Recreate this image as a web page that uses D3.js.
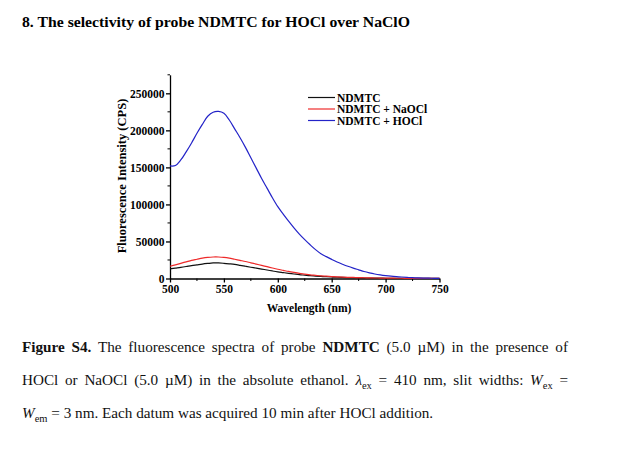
<!DOCTYPE html>
<html><head><meta charset="utf-8">
<script src="https://cdn.jsdelivr.net/npm/d3@7"></script>
<style>body{margin:0;background:#fff}svg{display:block}</style>
</head><body>
<svg id="c" width="619" height="463"></svg>
<script>
const wavelengths = d3.range(500, 751, 5);
const seriesNames = ["NDMTC", "NDMTC + NaOCl", "NDMTC + HOCl"];
const ndmtc = [13000,14000,15000,16200,17500,18500,19500,20300,21000,21000,20500,19800,19000,17800,16500,15200,14000,12700,11500,10200,9000,8000,7000,6100,5200,4500,3800,3300,2800,2400,2000,1700,1400,1200,1000,850,700,600,500,420,350,300,250,220,200,170,150,130,120,110,100];
const ndmtcNaOCl = [16500,18500,20500,22500,24500,26000,27500,28500,29000,29000,28500,27500,26000,24500,23000,21200,19500,17700,16000,14200,12500,11000,9500,8200,7000,6000,5000,4300,3600,3100,2600,2200,1900,1600,1400,1200,1000,850,700,600,500,430,370,320,270,230,200,170,140,120,100];
const ndmtcHOCl = [152000,152500,160000,171000,183000,196000,208000,219000,224500,225500,223000,214000,202000,190000,177000,163000,149000,135000,122000,109000,97000,87000,77500,68500,60000,52500,45500,39000,33500,29500,25800,22300,19300,16500,14000,11700,9400,7600,6100,4900,3900,3100,2500,2000,1500,1100,800,600,400,300,200];
const seriesValues = [ndmtc, ndmtcNaOCl, ndmtcHOCl];
const seriesColors = ["#111111", "#ee2a2a", "#2323c8"];
const xTicks = [500, 550, 600, 650, 700, 750];
const yTicks = [0, 50000, 100000, 150000, 200000, 250000];
const titleText = "8. The selectivity of probe NDMTC for HOCl over NaClO";

const svg = d3.select("#c");
const serif = "'Liberation Serif','Times New Roman',serif";

svg.append("text").attr("x", 22).attr("y", 27).attr("font-family", serif)
  .attr("font-weight", "bold").attr("font-size", 15.5).attr("textLength", 388)
  .attr("lengthAdjust", "spacingAndGlyphs").text(titleText);

const x = d3.scaleLinear().domain([500, 750]).range([170, 439.5]);
const y = d3.scaleLinear().domain([0, 275000]).range([278.5, 74.8]);

const g = svg.append("g");
const xMinor = d3.range(525, 750, 50);
const yMinor = d3.range(25000, 275001, 50000);
g.selectAll(".xm").data(xMinor).enter().append("line")
  .attr("x1", d => x(d)).attr("x2", d => x(d)).attr("y1", y(0)).attr("y2", y(0) + 2.5)
  .attr("stroke", "#000").attr("stroke-width", 1);
g.selectAll(".ym").data(yMinor).enter().append("line")
  .attr("x1", x(500) - 2.5).attr("x2", x(500)).attr("y1", d => y(d)).attr("y2", d => y(d))
  .attr("stroke", "#000").attr("stroke-width", 1);

const xAxis = d3.axisBottom(x).tickValues(xTicks).tickSize(4).tickSizeOuter(0).tickPadding(2).tickFormat(d3.format("d"));
const yAxis = d3.axisLeft(y).tickValues(yTicks).tickSize(4).tickSizeOuter(0).tickPadding(1.5).tickFormat(d3.format("d"));
const xa = g.append("g").attr("transform", `translate(0,${y(0)})`).call(xAxis);
const ya = g.append("g").attr("transform", `translate(${x(500)},0)`).call(yAxis);
[xa, ya].forEach(a => {
  a.attr("font-size", null).attr("font-family", null);
  a.selectAll("path,line").attr("stroke", "#000").attr("stroke-width", 1.3);
  a.selectAll("text").style("font-family", serif).style("font-weight", "bold").style("font-size", "11.5px").attr("fill", "#000");
});

const line = d3.line().x((d, i) => x(wavelengths[i])).y(d => y(d)).curve(d3.curveCatmullRom.alpha(0.5));
seriesValues.forEach((vals, k) => {
  svg.append("path").datum(vals).attr("d", line).attr("fill", "none")
    .attr("stroke", seriesColors[k]).attr("stroke-width", 1.2);
});

svg.append("text").attr("transform", `translate(126,176) rotate(-90)`).attr("text-anchor", "middle")
  .attr("font-family", serif).attr("font-weight", "bold").attr("font-size", 12.5).text("Fluorescence Intensity (CPS)");
svg.append("text").attr("x", 309).attr("y", 312).attr("text-anchor", "middle")
  .attr("font-family", serif).attr("font-weight", "bold").attr("font-size", 11.5).text("Wavelength (nm)");

const legY = [97.5, 109, 120.5];
seriesNames.forEach((n, k) => {
  svg.append("line").attr("x1", 308).attr("x2", 335).attr("y1", legY[k]).attr("y2", legY[k])
    .attr("stroke", seriesColors[k]).attr("stroke-width", 1.2);
  svg.append("text").attr("x", 337).attr("y", legY[k] + 4).attr("font-family", serif)
    .attr("font-weight", "bold").attr("font-size", 11.5).text(n);
});

const capLines = [
  {y: 352, justify: true, parts: [
    {t: "Figure S4.", b: true}, {t: " The fluorescence spectra of probe "}, {t: "NDMTC", b: true}, {t: " (5.0 µM) in the presence of"}]},
  {y: 385, justify: true, parts: [
    {t: "HOCl or NaOCl (5.0 µM) in the absolute ethanol. "}, {t: "λ", i: true}, {t: "ex", sub: true}, {t: " = 410 nm, slit widths: "}, {t: "W", i: true}, {t: "ex", sub: true}, {t: " ="}]},
  {y: 418, justify: false, parts: [
    {t: "W", i: true}, {t: "em", sub: true}, {t: " = 3 nm. Each datum was acquired 10 min after HOCl addition."}]}
];
capLines.forEach(L => {
  const t = svg.append("text").attr("x", 22).attr("y", L.y).attr("font-family", serif).attr("font-size", 15.2).attr("fill", "#111");
  L.parts.forEach((p, idx) => {
    const s = t.append("tspan").text(p.t);
    if (p.b) s.attr("font-weight", "bold");
    if (p.i) s.attr("font-style", "italic");
    if (p.sub) s.attr("font-size", 10.5).attr("dy", 4);
    if (idx > 0 && L.parts[idx - 1].sub) s.attr("dy", -4);
  });
  if (L.justify) {
    const w = t.node().getComputedTextLength();
    const spaces = L.parts.map(p => p.t).join("").split(" ").length - 1;
    t.attr("word-spacing", (546 - w) / spaces);
  }
});
</script>
</body></html>
